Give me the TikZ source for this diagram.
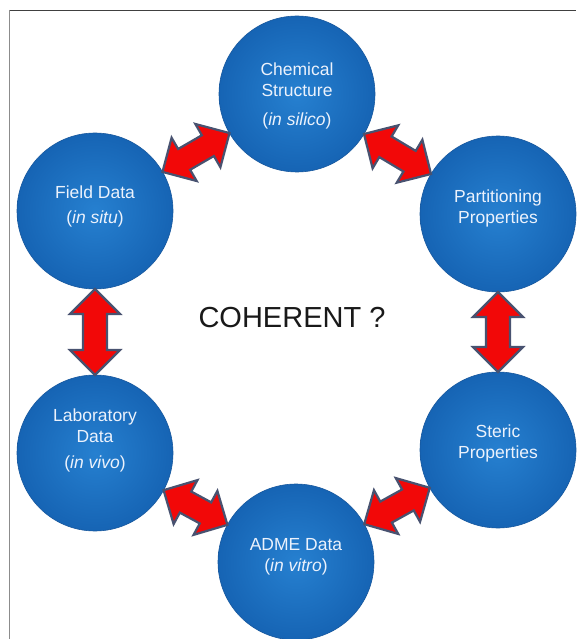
\documentclass[tikz,border=0pt]{standalone}
\usepackage{fontspec}
\setmainfont{Liberation Sans}
\usetikzlibrary{calc}
\definecolor{bin}{RGB}{38,128,208}
\definecolor{bout}{RGB}{22,100,180}
\definecolor{bedge}{RGB}{24,88,158}
\definecolor{arrred}{RGB}{242,8,8}
\definecolor{arredge}{RGB}{72,82,112}
\definecolor{txt}{RGB}{236,242,252}
\newcommand\rr{78pt}
\newcommand\hl{25pt}
\newcommand\hw{25pt}
\newcommand\sw{12pt}
\newcommand\dblarrow[2]{%
  \coordinate (t1) at ($(#2.center)!\rr!(#1.center)$);
  \coordinate (t2) at ($(#1.center)!\rr!(#2.center)$);
  \coordinate (h1) at ($(t1)!\hl!(t2)$);
  \coordinate (h2) at ($(t2)!\hl!(t1)$);
  \draw[dblarr] (t1) -- ($(h1)!\hw!90:(t1)$) -- ($(h1)!\sw!90:(t1)$)
    -- ($(h2)!\sw!-90:(t2)$) -- ($(h2)!\hw!-90:(t2)$) -- (t2)
    -- ($(h2)!\hw!90:(t2)$) -- ($(h2)!\sw!90:(t2)$)
    -- ($(h1)!\sw!-90:(t1)$) -- ($(h1)!\hw!-90:(t1)$) -- cycle;
}
\begin{document}
\begin{tikzpicture}[x=1pt,y=-1pt,
  bubble/.style={circle, minimum size=156pt, inner sep=0pt, shading=radial,
    inner color=bin, outer color=bout, draw=bedge, line width=0.6pt},
  btext/.style={text=txt, align=center, font=\fontsize{17.5}{21}\selectfont},
  dblarr/.style={fill=arrred, draw=arredge, line width=2.2pt, line join=miter},
]
\useasboundingbox[fill=white] (0,0) rectangle (576,639);
\draw[line width=1.5pt, black!75] (9,10.5) -- (576,10.5);
\draw[line width=1.2pt, black!45] (9.5,10) -- (9.5,639);

\node[bubble] (cs) at (297,94) {};
\node[bubble] (fd) at (95,211) {};
\node[bubble] (pp) at (498,214) {};
\node[bubble] (ld) at (95,453) {};
\node[bubble] (sp) at (498,450) {};
\node[bubble] (ad) at (296,562) {};

\node[btext] (cst) at (297,96) {Chemical\\Structure\\[8pt](\textit{in silico})};
\node[btext] (fdt) at (95,206) {Field Data\\[4pt](\textit{in situ})};
\node[btext] (ppt) at (498,208) {Partitioning\\Properties};
\node[btext] (ldt) at (95,440) {Laboratory\\Data\\[5pt](\textit{in vivo})};
\node[btext] (spt) at (498,443) {Steric\\Properties};
\node[btext] (adt) at (296,557) {ADME Data\\(\textit{in vitro})};

\node[font=\fontsize{29}{34}\selectfont, text=black!90] (coh) at (292,318) {COHERENT ?};

\dblarrow{fd}{cs}
\dblarrow{cs}{pp}
\dblarrow{pp}{sp}
\dblarrow{sp}{ad}
\dblarrow{ad}{ld}
\dblarrow{ld}{fd}
\end{tikzpicture}
\end{document}
